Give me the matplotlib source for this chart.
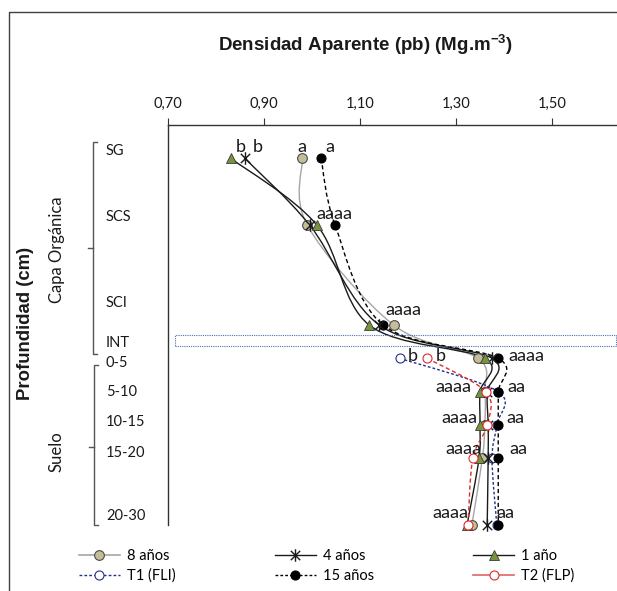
import numpy as np
import matplotlib
matplotlib.use('Agg')
import matplotlib.pyplot as plt
from matplotlib.path import Path
from matplotlib.patches import PathPatch, Rectangle
from matplotlib.lines import Line2D
from matplotlib.transforms import blended_transform_factory

plt.rcParams['font.family'] = ['Lato', 'DejaVu Sans']
plt.rcParams['mathtext.fontset'] = 'custom'
plt.rcParams['mathtext.rm'] = 'Liberation Sans'
plt.rcParams['mathtext.bf'] = 'Liberation Sans:bold'

# capas y posicion vertical (eje invertido)
capas = ['SG', 'SCS', 'INT', '0-5', '5-10', '10-15', '15-20', '20-30']
pos = [1, 3, 6, 7, 8, 9, 10, 12]
pos_suelo = pos[3:]

# densidad aparente (Mg/m3)
da_8 = [0.98, 0.99, 1.17, 1.346, 1.36, 1.36, 1.355, 1.333]
da_4 = [0.86, 0.995, 1.14, 1.375, 1.365, 1.367, 1.367, 1.365]
da_1 = [0.831, 1.01, 1.119, 1.36, 1.35, 1.35, 1.348, 1.323]
da_15 = [1.019, 1.048, 1.148, 1.388, 1.388, 1.388, 1.388, 1.388]
da_t1 = [1.183, 1.388, 1.385, 1.375, 1.385]
da_t2 = [1.24, 1.362, 1.365, 1.335, 1.325]

# letras de significancia (texto, x, y)
letras = [
    ('b', 0.852, 0.66), ('b', 0.8875, 0.66), ('a', 0.979, 0.66), ('a', 1.0375, 0.66),
    ('aaaa', 1.046, 2.67), ('aaaa', 1.19, 5.55),
    ('b', 1.21, 6.93), ('b', 1.269, 6.93), ('aaaa', 1.446, 6.93),
    ('aaaa', 1.295, 7.86), ('aa', 1.425, 7.86),
    ('aaaa', 1.308, 8.79), ('aa', 1.423, 8.79),
    ('aaaa', 1.315, 9.72), ('aa', 1.429, 9.72),
    ('aaaa', 1.2875, 11.64), ('aa', 1.402, 11.64),
]

# rotulos de profundidad a la izquierda
rotulos = ['SG', 'SCS', 'SCI', 'INT', '0-5', '5-10', '10-15', '15-20', '20-30']
rotulos_y = [0.78, 2.76, 5.34, 6.54, 7.14, 8.01, 8.91, 9.84, 11.73]

ticks_x = [0.70, 0.90, 1.10, 1.30, 1.50]

W, H = 617, 591


def fx(px):
    return px / W


def fy(py):
    return 1 - py / H


def curva(ax, xs, ys, **kw):
    # linea suavizada (bezier tipo catmull-rom) por los puntos
    p = np.column_stack([xs, ys])
    n = len(p)
    verts = [p[0]]
    codes = [Path.MOVETO]
    for i in range(n - 1):
        p0 = p[max(i - 1, 0)]
        p1 = p[i]
        p2 = p[i + 1]
        p3 = p[min(i + 2, n - 1)]
        verts += [p1 + (p2 - p0) / 6, p2 - (p3 - p1) / 6, p2]
        codes += [Path.CURVE4] * 3
    ax.add_patch(PathPatch(Path(verts, codes), fill=False, **kw))


estrella = Path([(0, -1), (0, 1), (-0.75, -0.75), (0.75, 0.75), (-0.75, 0.75), (0.75, -0.75)],
                [Path.MOVETO, Path.LINETO, Path.MOVETO, Path.LINETO, Path.MOVETO, Path.LINETO])

fig = plt.figure(figsize=(W / 100, H / 100), dpi=100)
ax = fig.add_axes([fx(168), fy(525), fx(617 - 168), 400 / H])

c_gris = '#A6A6A6'
c_azul = '#23308A'
c_rojo = '#E02B2B'

curva(ax, da_8, pos, edgecolor=c_gris, lw=1.0, zorder=2)
curva(ax, da_4, pos, edgecolor='#1a1a1a', lw=1.0, zorder=2)
curva(ax, da_1, pos, edgecolor='#1a1a1a', lw=1.0, zorder=2)
curva(ax, da_t1, pos_suelo, edgecolor=c_azul, lw=1.0, linestyle=(0, (2, 1.5)), zorder=2)
curva(ax, da_15, pos, edgecolor='black', lw=1.0, linestyle=(0, (3, 2)), zorder=2)
curva(ax, da_t2, pos_suelo, edgecolor=c_rojo, lw=1.0, linestyle=(0, (3, 2)), zorder=2)

st_8 = dict(marker='o', ms=7, mfc='#C4BD97', mec='#4a4a4a', mew=0.8)
st_4 = dict(marker=estrella, ms=9, mfc='none', mec='#1a1a1a', mew=1.0)
st_1 = dict(marker='^', ms=7.5, mfc='#77933C', mec='#3a3a3a', mew=0.6)
st_t1 = dict(marker='o', ms=6.5, mfc='white', mec=c_azul, mew=0.8)
st_15 = dict(marker='o', ms=6.5, mfc='black', mec='black', mew=0.8)
st_t2 = dict(marker='o', ms=6.5, mfc='white', mec=c_rojo, mew=0.8)

ax.plot(da_t1, pos_suelo, ls='none', zorder=3, clip_on=False, **st_t1)
ax.plot(da_8, pos, ls='none', zorder=3, clip_on=False, **st_8)
ax.plot(da_15, pos, ls='none', zorder=3.5, clip_on=False, **st_15)
ax.plot(da_4, pos, ls='none', zorder=4, clip_on=False, **st_4)
ax.plot(da_1, pos, ls='none', zorder=4, clip_on=False, **st_1)
ax.plot(da_t2, pos_suelo, ls='none', zorder=5, clip_on=False, **st_t2)

for txt, x, y in letras:
    ax.text(x, y, txt, fontsize=13, color='#1a1a1a', ha='center', va='center', zorder=6)

ax.set_xlim(0.70, 0.70 + (617 - 168) / 480)
ax.set_ylim(12, 0)
ax.set_xticks(ticks_x)
ax.set_xticklabels([('%.2f' % v).replace('.', ',') for v in ticks_x])
ax.xaxis.tick_top()
ax.tick_params(axis='x', direction='out', length=5, width=0.8, color='#333333',
               labelsize=10.5, pad=5, labelcolor='#1a1a1a')
ax.set_yticks([])
for lado in ['right', 'bottom']:
    ax.spines[lado].set_visible(False)
for lado in ['left', 'top']:
    ax.spines[lado].set_color('#333333')
    ax.spines[lado].set_linewidth(1.0)

# rotulos de capas
tr = blended_transform_factory(ax.transAxes, ax.transData)
for txt, y in zip(rotulos, rotulos_y):
    ax.text((106 - 168) / (617 - 168), y, txt, transform=tr, fontsize=10.5,
            color='#1a1a1a', ha='left', va='center', clip_on=False)


def corchete(x, y0, y1, ym):
    c = '#555555'
    fig.add_artist(Line2D([fx(x + 4), fx(x), fx(x), fx(x + 4)],
                          [fy(y0), fy(y0), fy(y1), fy(y1)], color=c, lw=1.0))
    fig.add_artist(Line2D([fx(x - 5), fx(x)], [fy(ym), fy(ym)], color=c, lw=1.0))


corchete(93, 142, 354, 248)
corchete(94, 365, 525, 447)

fig.text(fx(57), fy(250), 'Capa Orgánica', rotation=90, fontsize=12,
         color='#1a1a1a', ha='center', va='center')
fig.text(fx(57), fy(452), 'Suelo', rotation=90, fontsize=12,
         color='#1a1a1a', ha='center', va='center')
fig.text(fx(26), fy(323), 'Profundidad (cm)', rotation=90, fontsize=13.3,
         fontweight='bold', family='Liberation Sans', color='#1a1a1a',
         ha='center', va='center')
fig.text(fx(365), fy(45), r'Densidad Aparente (pb) (Mg.m$^{\mathbf{-3}}$)',
         fontsize=13.5, fontweight='bold', family='Liberation Sans',
         color='#1a1a1a', ha='center', va='center')

# recuadro punteado
fig.add_artist(Rectangle((fx(175), fy(346)), fx(616 - 175), 11 / H, fill=False,
                         edgecolor='#4F6FAD', lw=0.8, linestyle=(0, (1, 1))))

# marco exterior
fig.add_artist(Line2D([fx(9), fx(9), fx(617)], [fy(591), fy(12), fy(12)],
                      color='#404040', lw=1.0))

# leyenda
h_8 = Line2D([], [], color=c_gris, lw=1.2, **st_8)
h_4 = Line2D([], [], color='#1a1a1a', lw=1.0, **st_4)
h_1 = Line2D([], [], color='#1a1a1a', lw=1.0, **st_1)
h_t1 = Line2D([], [], color=c_azul, lw=1.0, ls=(0, (2, 1.5)), **st_t1)
h_15 = Line2D([], [], color='black', lw=1.0, ls=(0, (2, 1.5)), **st_15)
h_t2 = Line2D([], [], color='#E06666', lw=1.2, **st_t2)
fig.legend([h_8, h_t1, h_4, h_15, h_1, h_t2],
           ['8 años', 'T1 (FLI)', '4 años', '15 años', '1 año', 'T2 (FLP)'],
           ncol=3, loc='upper left', bbox_to_anchor=(fx(79), fy(549)),
           frameon=False, fontsize=10.5, handlelength=2.8, handletextpad=0.5,
           columnspacing=6.8, labelspacing=0.4, borderpad=0, borderaxespad=0)

fig.savefig('out.png', dpi=100)
